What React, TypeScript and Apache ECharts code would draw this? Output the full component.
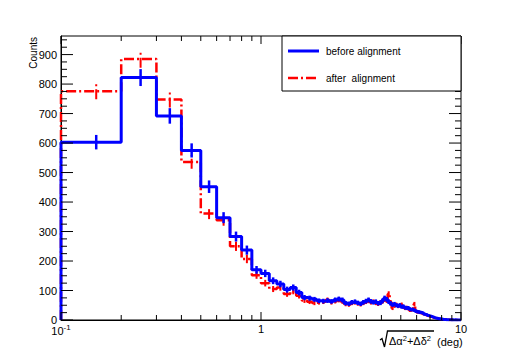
import React, { useEffect, useRef } from 'react';
import * as echarts from 'echarts';

// Histogram bins: width 0.1 deg, lower edges 0.1 ... 9.9
const binLowEdges: number[] = Array.from({ length: 99 }, (_, i) => (i + 1) / 10);
const binHighEdges: number[] = Array.from({ length: 99 }, (_, i) => (i + 2) / 10);

const beforeCounts: number[] = [
  603, 822, 692, 575, 452, 347, 283, 237, 170, 158,
  133, 122, 103, 110, 93, 76, 74, 70, 65, 64,
  66, 63, 68, 71, 68, 57, 55, 60, 62, 58,
  55, 60, 64, 68, 63, 60, 62, 57, 58, 65,
  74, 70, 62, 56, 52, 54, 50, 48, 50, 45,
  46, 42, 40, 41, 37, 35, 36, 33, 30, 28,
  27, 26, 25, 23, 20, 19, 17, 15, 14, 13,
  11, 10, 8, 7, 6, 5, 4, 4, 3, 3,
  2, 2, 2, 1, 1, 1, 1, 1, 0, 1,
  0, 0, 1, 0, 0, 0, 0, 0, 0,
];

const afterCounts: number[] = [
  776, 885, 748, 536, 361, 338, 250, 207, 152, 125,
  105, 110, 88, 97, 82, 66, 62, 58, 60, 62,
  68, 60, 64, 68, 63, 54, 52, 58, 60, 56,
  53, 58, 62, 65, 60, 62, 58, 55, 60, 63,
  70, 66, 88, 60, 40, 48, 52, 47, 50, 52,
  44, 40, 42, 39, 33, 34, 37, 54, 30, 27,
  27, 25, 24, 21, 20, 18, 16, 14, 13, 12,
  10, 9, 8, 6, 5, 5, 4, 3, 3, 2,
  2, 1, 2, 1, 1, 0, 1, 0, 1, 0,
  0, 0, 0, 0, 0, 0, 0, 0, 0,
];

const xMajorTicks: number[] = [0.1, 1, 10];
const xMinorTicks: number[] = [0.2, 0.3, 0.4, 0.5, 0.6, 0.7, 0.8, 0.9, 2, 3, 4, 5, 6, 7, 8, 9];
const yMajorTicks: number[] = [0, 100, 200, 300, 400, 500, 600, 700, 800, 900];
const yMinorTicks: number[] = [
  25, 50, 75, 125, 150, 175, 225, 250, 275, 325, 350, 375, 425, 450, 475,
  525, 550, 575, 625, 650, 675, 725, 750, 775, 825, 850, 875, 925, 950,
];
const yMax = 963;

const BLUE = '#0000ff';
const RED = '#ff0000';
const FONT = '"Liberation Sans", Arial, Helvetica, sans-serif';
const RED_DASH = [10, 3, 2, 3];

function stepPoints(counts: number[]): number[][] {
  const pts: number[][] = [[binLowEdges[0], 0]];
  counts.forEach((v, i) => {
    pts.push([binLowEdges[i], v], [binHighEdges[i], v]);
  });
  pts.push([binHighEdges[counts.length - 1], 0]);
  return pts;
}

function errorPoints(counts: number[]): number[][] {
  return counts.map((v, i) => [(binLowEdges[i] + binHighEdges[i]) / 2, v, Math.sqrt(v)]);
}

function errorSeries(counts: number[], color: string, width: number, dash: number[] | null) {
  return {
    type: 'custom',
    coordinateSystem: 'cartesian2d',
    encode: { x: 0, y: 1 },
    data: errorPoints(counts),
    silent: true,
    renderItem: (params: any, api: any) => {
      const x = api.value(0);
      const v = api.value(1);
      const e = api.value(2);
      if (!(e > 0)) return { type: 'group', children: [] };
      const p1 = api.coord([x, Math.max(0, v - e)]);
      const p2 = api.coord([x, v + e]);
      return {
        type: 'line',
        shape: { x1: p1[0], y1: p1[1], x2: p2[0], y2: p2[1] },
        style: { stroke: color, lineWidth: width, lineDash: dash || undefined },
      };
    },
  };
}

export default function App() {
  const ref = useRef<HTMLDivElement>(null);

  useEffect(() => {
    if (!ref.current) return;
    const chart = echarts.init(ref.current, undefined, { renderer: 'svg' });

    const xTickData = [
      ...xMajorTicks.map((v) => [v, 0, 8]),
      ...xMinorTicks.map((v) => [v, 0, 5]),
    ];
    const yTickData = [
      ...yMajorTicks.map((v) => [1, v, 12]),
      ...yMinorTicks.map((v) => [1, v, 6]),
    ];

    const option: any = {
      animation: false,
      backgroundColor: '#ffffff',
      grid: {
        left: 61,
        right: 52,
        top: 36,
        bottom: 44,
        show: true,
        borderColor: '#000',
        borderWidth: 1,
        backgroundColor: '#fff',
      },
      xAxis: {
        type: 'log',
        logBase: 10,
        min: 0.1,
        max: 10,
        axisLine: { show: true, lineStyle: { color: '#000', width: 1 } },
        axisTick: { show: false },
        splitLine: { show: false },
        minorTick: { show: false },
        axisLabel: {
          margin: 3,
          color: '#000',
          fontFamily: FONT,
          fontSize: 11,
          formatter: (v: number) => (v < 0.5 ? '{a|10}{b|-1}' : v < 5 ? '{a|1}' : '{a|10}'),
          rich: {
            a: { fontSize: 11, fontFamily: FONT, color: '#000' },
            b: { fontSize: 8, fontFamily: FONT, color: '#000', padding: [0, 0, 7, 0] },
          },
        },
      },
      yAxis: {
        type: 'value',
        min: 0,
        max: yMax,
        interval: 100,
        axisLine: { show: true, lineStyle: { color: '#000', width: 1 } },
        axisTick: { show: false },
        splitLine: { show: false },
        axisLabel: {
          margin: 4,
          color: '#000',
          fontFamily: FONT,
          fontSize: 11,
          formatter: (v: number) => (v % 100 === 0 && v <= 900 ? String(v) : ''),
        },
      },
      series: [
        {
          name: 'after  alignment',
          type: 'line',
          data: stepPoints(afterCounts),
          showSymbol: false,
          symbol: 'none',
          lineStyle: { color: RED, width: 2.5, type: RED_DASH },
          z: 2,
          silent: true,
        },
        { ...errorSeries(afterCounts, RED, 2, RED_DASH), z: 2 },
        {
          name: 'before alignment',
          type: 'line',
          data: stepPoints(beforeCounts),
          showSymbol: false,
          symbol: 'none',
          lineStyle: { color: BLUE, width: 3 },
          z: 3,
          silent: true,
        },
        { ...errorSeries(beforeCounts, BLUE, 2.5, null), z: 3 },
        {
          type: 'custom',
          coordinateSystem: 'cartesian2d',
          encode: { x: 0, y: 1 },
          data: xTickData,
          clip: false,
          silent: true,
          z: 5,
          renderItem: (params: any, api: any) => {
            const cs = params.coordSys;
            const p = api.coord([api.value(0), 0]);
            const len = api.value(2);
            const top = cs.y;
            const bottom = cs.y + cs.height;
            return {
              type: 'group',
              children: [
                { type: 'line', shape: { x1: p[0], y1: bottom, x2: p[0], y2: bottom - len }, style: { stroke: '#000', lineWidth: 1 } },
                { type: 'line', shape: { x1: p[0], y1: top, x2: p[0], y2: top + len }, style: { stroke: '#000', lineWidth: 1 } },
              ],
            };
          },
        },
        {
          type: 'custom',
          coordinateSystem: 'cartesian2d',
          encode: { x: 0, y: 1 },
          data: yTickData,
          clip: false,
          silent: true,
          z: 5,
          renderItem: (params: any, api: any) => {
            const cs = params.coordSys;
            const p = api.coord([1, api.value(1)]);
            const len = api.value(2);
            const left = cs.x;
            const right = cs.x + cs.width;
            return {
              type: 'group',
              children: [
                { type: 'line', shape: { x1: left, y1: p[1], x2: left + len, y2: p[1] }, style: { stroke: '#000', lineWidth: 1 } },
                { type: 'line', shape: { x1: right, y1: p[1], x2: right - len, y2: p[1] }, style: { stroke: '#000', lineWidth: 1 } },
              ],
            };
          },
        },
      ],
      graphic: [
        {
          type: 'text',
          x: 33,
          y: 37,
          rotation: Math.PI / 2,
          style: { text: 'Counts', fontSize: 10, fontFamily: FONT, fill: '#000', align: 'right', verticalAlign: 'middle' },
          z: 10,
        },
        // x-axis title: radical sign drawn as polyline
        {
          type: 'polyline',
          shape: { points: [[380, 340], [382, 338.5], [384.5, 347], [387.5, 331], [434, 331]] },
          style: { stroke: '#000', lineWidth: 1.3, fill: null },
          z: 10,
        },
        {
          type: 'text',
          x: 389,
          y: 341,
          style: {
            text: '{t|Δα}{s|2}{t|+Δδ}{s|2}',
            fontFamily: FONT,
            fill: '#000',
            align: 'left',
            verticalAlign: 'middle',
            rich: {
              t: { fontSize: 11, fontFamily: FONT, fill: '#000' },
              s: { fontSize: 7.5, fontFamily: FONT, fill: '#000', padding: [0, 0, 6, 0] },
            },
          },
          z: 10,
        },
        {
          type: 'text',
          x: 437,
          y: 342,
          style: { text: '(deg)', fontSize: 11, fontFamily: FONT, fill: '#000', align: 'left', verticalAlign: 'middle' },
          z: 10,
        },
        // legend
        {
          type: 'rect',
          shape: { x: 282, y: 36, width: 179, height: 55 },
          style: { fill: '#fff', stroke: '#000', lineWidth: 1 },
          z: 20,
        },
        {
          type: 'line',
          shape: { x1: 288, y1: 51, x2: 319, y2: 51 },
          style: { stroke: BLUE, lineWidth: 3 },
          z: 21,
        },
        {
          type: 'text',
          x: 326,
          y: 51,
          style: { text: 'before alignment', fontSize: 10, fontFamily: FONT, fill: '#000', align: 'left', verticalAlign: 'middle' },
          z: 21,
        },
        {
          type: 'line',
          shape: { x1: 288, y1: 78, x2: 319, y2: 78 },
          style: { stroke: RED, lineWidth: 2.5, lineDash: RED_DASH },
          z: 21,
        },
        {
          type: 'text',
          x: 326,
          y: 78,
          style: { text: 'after  alignment', fontSize: 10, fontFamily: FONT, fill: '#000', align: 'left', verticalAlign: 'middle' },
          z: 21,
        },
      ],
    };

    chart.setOption(option);
    return () => chart.dispose();
  }, []);

  return (
    <div
      ref={ref}
      style={{ position: 'fixed', left: 0, top: 0, width: 513, height: 364, background: '#fff' }}
    />
  );
}
